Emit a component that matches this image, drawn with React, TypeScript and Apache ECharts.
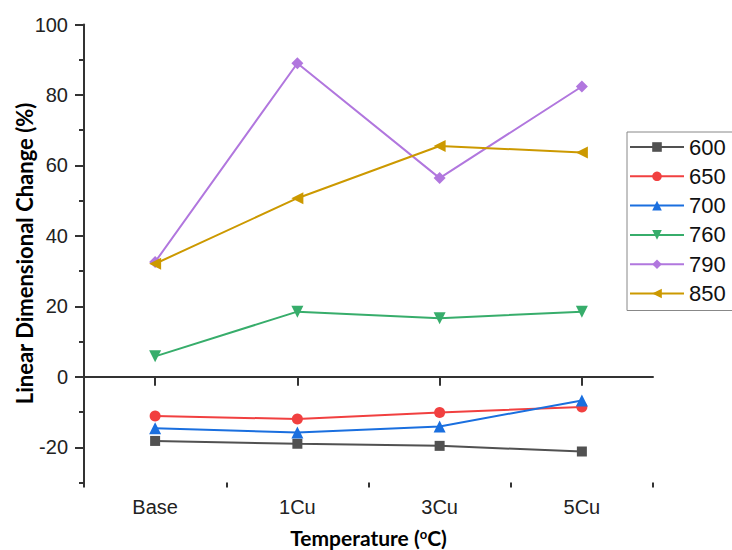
import React, { useEffect, useRef } from 'react';
import * as echarts from 'echarts';

const categories = ['Base', '1Cu', '3Cu', '5Cu'];
const seriesNames = ['600', '650', '700', '760', '790', '850'];
const s600 = [-18.2, -19.0, -19.6, -21.2];
const s650 = [-11.1, -12.0, -10.1, -8.6];
const s700 = [-14.6, -15.8, -14.1, -6.7];
const s760 = [5.8, 18.5, 16.6, 18.5];
const s790 = [32.6, 89.0, 56.4, 82.4];
const s850 = [32.1, 50.7, 65.5, 63.7];
const yTickValues = ['-30', '-20', '-10', '0', '10', '20', '30', '40', '50', '60', '70', '80', '90', '100'];

const seriesData = [s600, s650, s700, s760, s790, s850];
const colors = ['#515151', '#F14040', '#1A6FDF', '#37AD6B', '#B177DE', '#CC9900'];
const symbols = ['rect', 'circle', 'triangle', 'triangle', 'diamond', 'triangle'];
const rotations = [0, 0, 0, 180, 0, 90];
const sizes = [10, 11, 12, 12, 12, 12];

const axisColor = '#333333';

export default function App() {
  const ref = useRef<HTMLDivElement>(null);
  useEffect(() => {
    if (!ref.current) return;
    const chart = echarts.init(ref.current, null, { renderer: 'svg' });
    const tickLabel = { fontFamily: 'Liberation Sans', fontSize: 20, color: '#222' };
    const option = {
      animation: false,
      backgroundColor: '#ffffff',
      grid: { left: 84, right: 79, top: 24.5, bottom: 67.5, outerBoundsMode: 'none', containLabel: false },
      legend: {
        data: seriesNames,
        orient: 'vertical',
        left: 627,
        top: 132,
        itemWidth: 54,
        itemHeight: 12,
        itemGap: 7.3,
        padding: [4, 14, 6, 2],
        borderColor: '#888',
        borderWidth: 1,
        textStyle: { fontFamily: 'Liberation Sans', fontSize: 22, color: '#111', lineHeight: 22 },
      },
      xAxis: [
        {
          type: 'category',
          data: categories,
          boundaryGap: true,
          axisLine: { show: true, lineStyle: { color: axisColor, width: 2 } },
          axisTick: { show: true, alignWithLabel: true, length: 9, lineStyle: { color: axisColor, width: 2 } },
          axisLabel: { ...tickLabel, margin: 14 },
          splitLine: { show: false },
          name: '{a|Temperature (}{b|o}{a|C)}',
          nameLocation: 'middle',
          nameGap: 44,
          nameMoveOverlap: false,
          nameTextStyle: {
            rich: {
              a: { fontFamily: 'Lato', fontWeight: 'bold', fontSize: 21, lineHeight: 22, color: '#000' },
              b: { fontFamily: 'Lato', fontWeight: 'bold', fontSize: 13, color: '#000', padding: [0, 0, 8, 0] },
            },
          },
        },
        {
          type: 'category',
          data: categories,
          position: 'bottom',
          boundaryGap: true,
          axisLine: { show: false },
          axisTick: { show: true, length: 5, lineStyle: { color: axisColor, width: 2 } },
          axisLabel: { show: false },
          splitLine: { show: false },
        },
      ],
      yAxis: [
        {
          type: 'value',
          min: -30,
          max: 100,
          interval: 10,
          axisLine: { show: true, lineStyle: { color: axisColor, width: 2 } },
          axisTick: { show: true, length: 5, lineStyle: { color: axisColor, width: 2 } },
          axisLabel: { ...tickLabel, margin: 16, formatter: (v: number) => (v % 20 === 0 ? String(v) : '') },
          splitLine: { show: false },
          name: 'Linear Dimensional Change (%)',
          nameLocation: 'middle',
          nameGap: 49,
          nameMoveOverlap: false,
          nameTextStyle: { fontFamily: 'Lato', fontWeight: 'bold', fontSize: 22, color: '#000' },
        },
        {
          type: 'category',
          data: yTickValues,
          position: 'left',
          boundaryGap: false,
          axisLine: { show: false },
          axisTick: {
            show: true,
            length: 9,
            interval: (_i: number, v: string) => Number(v) % 20 === 0,
            lineStyle: { color: axisColor, width: 2 },
          },
          axisLabel: { show: false },
          splitLine: { show: false },
        },
      ],
      series: seriesNames.map((name, i) => ({
        name,
        type: 'line',
        xAxisIndex: 0,
        yAxisIndex: 0,
        data: seriesData[i],
        symbol: symbols[i],
        symbolRotate: rotations[i],
        symbolSize: sizes[i],
        showAllSymbol: true,
        lineStyle: { color: colors[i], width: 2 },
        itemStyle: { color: colors[i] },
      })),
    };
    chart.setOption(option as any);
    return () => chart.dispose();
  }, []);
  return <div ref={ref} style={{ position: 'fixed', left: 0, top: 0, width: 732, height: 550 }} />;
}
